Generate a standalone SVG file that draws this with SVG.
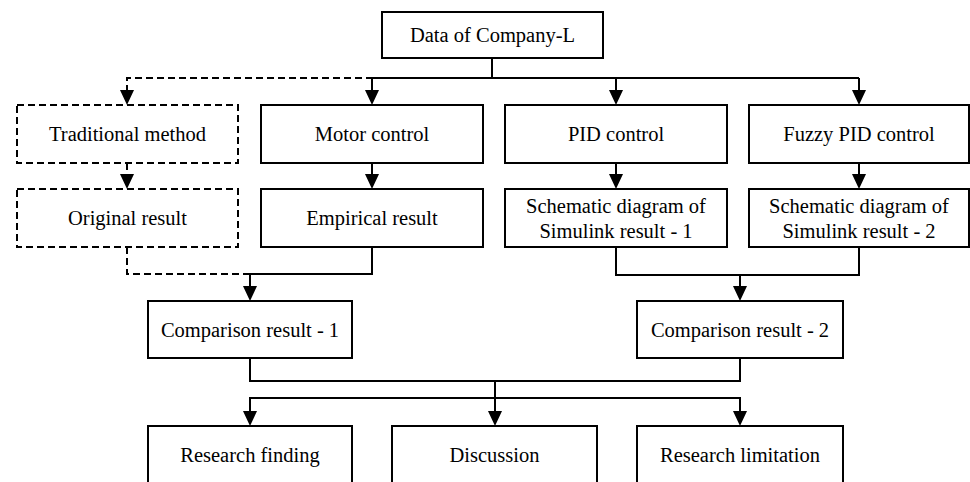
<svg xmlns="http://www.w3.org/2000/svg" width="970" height="482" viewBox="0 0 970 482">
<style>
.box{fill:#fff;stroke:#000;stroke-width:2}
.dash{stroke-dasharray:7 4}
.lbl{font-family:"Liberation Serif","Times New Roman",serif;font-size:20.5px;fill:#000;text-anchor:middle}
.ln{fill:none;stroke:#000;stroke-width:2}
.arr{marker-end:url(#ah)}
</style>
<defs>
<marker id="ah" markerUnits="userSpaceOnUse" markerWidth="15" markerHeight="15" viewBox="0 0 15 14" refX="12" refY="7" orient="auto">
<path d="M0,0 L15,7 L0,14 Z" fill="#000" stroke="none"/>
</marker>
</defs>
<rect width="970" height="482" fill="#fff"/>
<g id="connectors">
<path class="ln" d="M492,58 V78 M372,78 H859"/>
<path class="ln dash arr" d="M373,78 H127 V102"/>
<path class="ln arr" d="M372,78 V102"/>
<path class="ln arr" d="M616,78 V102"/>
<path class="ln arr" d="M859,78 V102"/>
<path class="ln dash arr" d="M127,163 V186"/>
<path class="ln arr" d="M372,163 V186"/>
<path class="ln arr" d="M616,163 V186"/>
<path class="ln arr" d="M859,163 V186"/>
<path class="ln dash" d="M127,247 V274 H250"/>
<path class="ln arr" d="M372,247 V274 H250 V298"/>
<path class="ln" d="M616,247 V275 H859 V247"/>
<path class="ln arr" d="M740,275 V298"/>
<path class="ln" d="M250,358 V381 H740 V358 M495,381 V398"/>
<path class="ln arr" d="M495,398 H250 V423"/>
<path class="ln arr" d="M495,398 V423"/>
<path class="ln arr" d="M495,398 H740 V423"/>
</g>
<g id="n-data"><rect class="box" x="382" y="12" width="221" height="46"/><text class="lbl" x="492.5" y="42">Data of Company-L</text></g>
<g id="n-traditional"><rect class="box dash" x="17" y="105" width="221" height="58"/><text class="lbl" x="127.5" y="141">Traditional method</text></g>
<g id="n-motor"><rect class="box" x="261" y="105" width="222" height="58"/><text class="lbl" x="372" y="141">Motor control</text></g>
<g id="n-pid"><rect class="box" x="505" y="105" width="222" height="58"/><text class="lbl" x="616" y="141">PID control</text></g>
<g id="n-fuzzy"><rect class="box" x="749" y="105" width="220" height="58"/><text class="lbl" x="859" y="141">Fuzzy PID control</text></g>
<g id="n-original"><rect class="box dash" x="17" y="189" width="221" height="58"/><text class="lbl" x="127.5" y="225">Original result</text></g>
<g id="n-empirical"><rect class="box" x="261" y="189" width="222" height="58"/><text class="lbl" x="372" y="225">Empirical result</text></g>
<g id="n-sim1"><rect class="box" x="505" y="189" width="222" height="58"/><text class="lbl" x="616" y="213">Schematic diagram of</text><text class="lbl" x="616" y="238">Simulink result - 1</text></g>
<g id="n-sim2"><rect class="box" x="749" y="189" width="220" height="58"/><text class="lbl" x="859" y="213">Schematic diagram of</text><text class="lbl" x="859" y="238">Simulink result - 2</text></g>
<g id="n-cmp1"><rect class="box" x="148" y="301" width="204" height="57"/><text class="lbl" x="250" y="337">Comparison result - 1</text></g>
<g id="n-cmp2"><rect class="box" x="637" y="301" width="206" height="57"/><text class="lbl" x="740" y="337">Comparison result - 2</text></g>
<g id="n-finding"><rect class="box" x="148" y="426" width="204" height="60"/><text class="lbl" x="250" y="462">Research finding</text></g>
<g id="n-discussion"><rect class="box" x="392" y="426" width="205" height="60"/><text class="lbl" x="494.5" y="462">Discussion</text></g>
<g id="n-limitation"><rect class="box" x="637" y="426" width="206" height="60"/><text class="lbl" x="740" y="462">Research limitation</text></g>
</svg>
